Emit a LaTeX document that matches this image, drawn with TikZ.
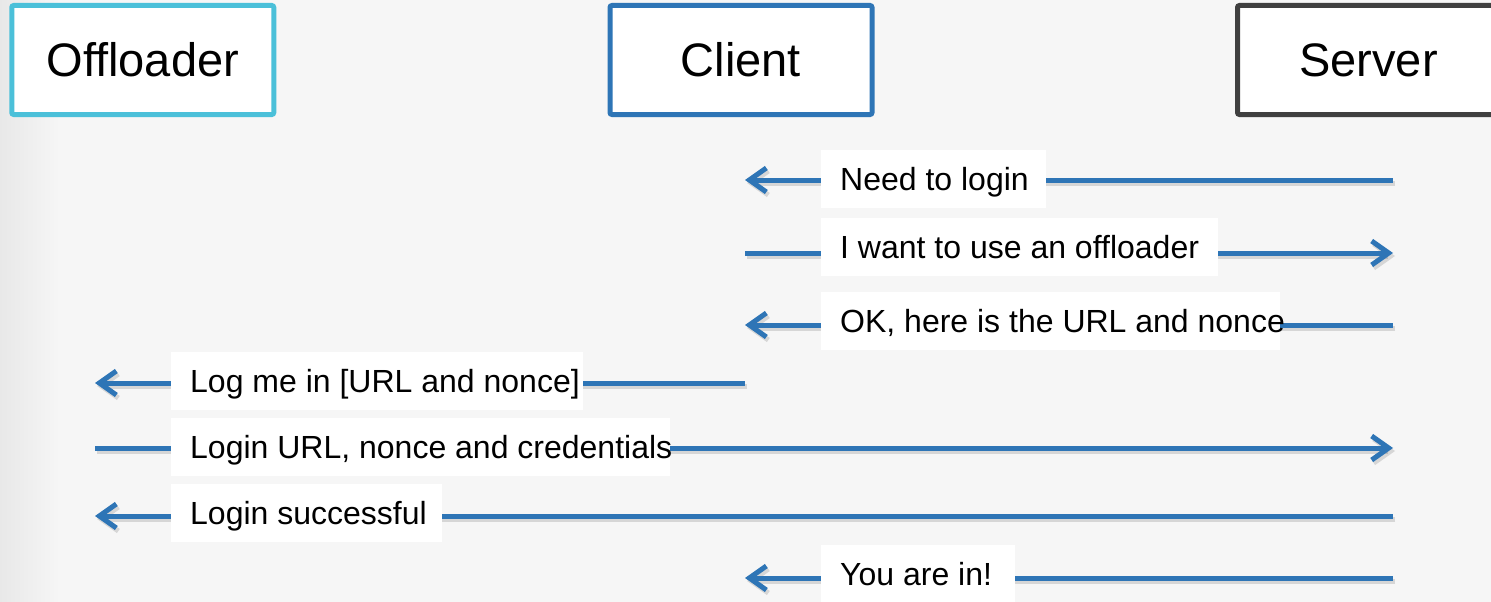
\documentclass[tikz,border=0pt]{standalone}
\usepackage{fontspec}
\setmainfont{Liberation Sans}
\usetikzlibrary{arrows.meta}
\definecolor{msgblue}{RGB}{46,117,182}
\definecolor{offcyan}{RGB}{75,192,217}
\definecolor{srvgray}{RGB}{64,64,64}
\definecolor{bggray}{RGB}{246,246,246}
\newcommand{\msgbox}[2]{\makebox[#1pt][l]{\hspace{19pt}#2}}

\begin{document}
\begin{tikzpicture}[x=1pt, y=-1pt,
  actor/.style={draw, line width=5pt, fill=white, rounded corners=2pt,
    minimum width=262pt, minimum height=109pt, inner sep=0pt,
    font=\fontsize{47}{56}\selectfont},
  msg/.style={draw=msgblue, line width=5pt,
    -{Straight Barb[length=17pt, width=24pt]},
    preaction={draw=black, opacity=0.13, line width=5pt,
      transform canvas={xshift=2pt, yshift=-3pt}}},
  msgtext/.style={fill=white, anchor=west, inner sep=0pt, minimum height=58pt,
    text height=23pt, text depth=0pt, font=\fontsize{32}{38}\selectfont}]
\useasboundingbox (0,0) rectangle (1491,602);
\fill [bggray] (0,0) rectangle (1491,602);
\shade [left color=black!9, right color=bggray] (0,0) rectangle (60,602);

\node [actor, draw=offcyan] (off) at (142.75,60) {Offloader};
\node [actor, draw=msgblue] (cli) at (741,60) {Client};
\node [actor, draw=srvgray] (srv) at (1368.5,60) {Server};

% end points of the messages
\foreach \n/\y in {1/180, 2/253, 3/325, 4/383, 5/448, 6/516, 7/578} {
  \coordinate (off\n) at (95,\y);
  \coordinate (cli\n) at (745,\y);
  \coordinate (srv\n) at (1393,\y);
}

\draw [msg] (srv1) -- (cli1);
\draw [msg] (cli2) -- (srv2);
\draw [msg] (srv3) -- (cli3);
\draw [msg] (cli4) -- (off4);
\draw [msg] (off5) -- (srv5);
\draw [msg] (srv6) -- (off6);
\draw [msg] (srv7) -- (cli7);

\node [msgtext] (t1) at (821,179) {\msgbox{225}{Need to login}};
\node [msgtext] (t2) at (821,247) {\msgbox{397}{I want to use an offloader}};
\node [msgtext] (t3) at (821,321) {\msgbox{459}{OK, here is the URL and nonce}};
\node [msgtext] (t4) at (171,381) {\msgbox{412}{Log me in [URL and nonce]}};
\node [msgtext] (t5) at (171,447) {\msgbox{499}{Login URL, nonce and credentials}};
\node [msgtext] (t6) at (171,513) {\msgbox{271}{Login successful}};
\node [msgtext] (t7) at (821,574) {\msgbox{194}{You are in!}};
\end{tikzpicture}
\end{document}
